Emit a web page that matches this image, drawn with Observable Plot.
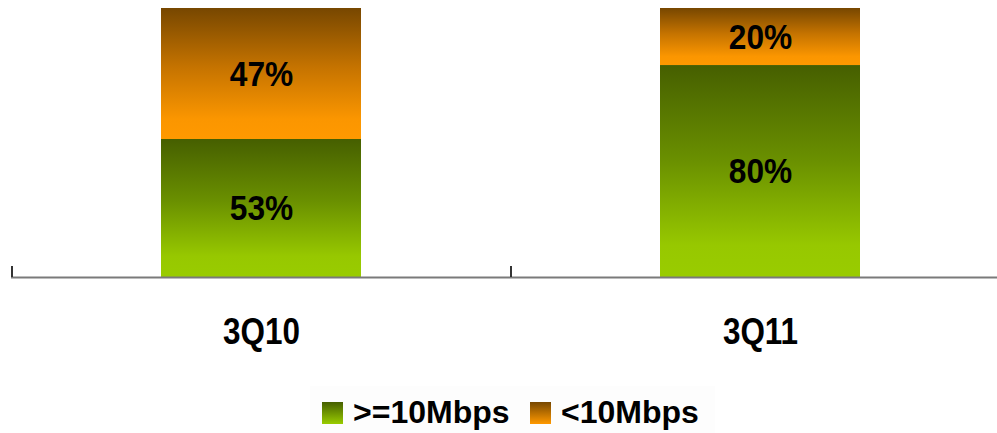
<!DOCTYPE html>
<html>
<head>
<meta charset="utf-8">
<script src="https://cdn.jsdelivr.net/npm/d3@7"></script>
<script src="https://cdn.jsdelivr.net/npm/@observablehq/plot@0.6"></script>
<style>
  html, body { margin: 0; padding: 0; background: #ffffff; }
  #chart { width: 997px; height: 433px; position: relative; overflow: hidden; }
  .legend { position: absolute; left: 310px; top: 386px; width: 405px; height: 47px; background: #fdfdfd;
    font-family: "Liberation Sans", Arial, sans-serif; font-weight: bold; font-size: 32px; color: #000; }
  .item { position: absolute; top: 0; display: flex; align-items: center; height: 47px; }
  .sw { width: 21px; height: 22px; margin-right: 10px; margin-top: 6px; }
  .lbl { line-height: 47px; padding-top: 6px; }
</style>
</head>
<body>
<div id="chart"></div>
<script>
const categories = ["3Q10", "3Q11"];
const series = [">=10Mbps", "<10Mbps"];
// segment heights as drawn (percent of bar)
const geq10 = [51.3, 78.8];
const lt10 = [48.7, 21.2];
// printed labels
const geq10Labels = ["53%", "80%"];
const lt10Labels = ["47%", "20%"];
const seriesValues = [geq10, lt10];
const seriesLabels = [geq10Labels, lt10Labels];
const gradientIds = ["url(#gGreen)", "url(#gOrange)"];

const data = [];
series.forEach((s, si) => {
  categories.forEach((c, ci) => {
    data.push({category: c, series: s, value: seriesValues[si][ci], label: seriesLabels[si][ci]});
  });
});

const font = "'Liberation Sans', Arial, sans-serif";

const plot = Plot.plot({
  width: 997,
  height: 385,
  marginTop: 8,
  marginBottom: 108,
  marginLeft: 11,
  marginRight: 0,
  style: {fontFamily: font, background: "transparent", overflow: "visible"},
  x: {domain: categories, range: [11, 1009], paddingInner: 0.6, paddingOuter: 0.3, label: null},
  y: {domain: [0, 100], axis: null},
  color: {domain: series, range: gradientIds, type: "ordinal"},
  marks: [
    Plot.barY(data, Plot.stackY({x: "category", y: "value", fill: "series", order: series})),
    Plot.text(data, Plot.stackY({x: "category", y: "value", z: "series", order: series, text: "label",
      fontSize: 36, fontWeight: "bold", fill: "#000", className: "seglabel"})),
    Plot.ruleY([0], {stroke: "#7a7a7a", strokeWidth: 2}),
    Plot.ruleX(categories, {x: d => d, y1: 0, y2: 4.1, dx: -249.5, stroke: "#333", strokeWidth: 2}),
    Plot.axisX({tickSize: 0, tickPadding: 40, fontSize: 37, fontWeight: "bold", fill: "#000"})
  ]
});

const svg = d3.select(plot);
const defs = svg.insert("defs", ":first-child");
const gG = defs.append("linearGradient").attr("id", "gGreen").attr("x1", 0).attr("y1", 0).attr("x2", 0).attr("y2", 1);
gG.append("stop").attr("offset", "0%").attr("stop-color", "#465f00");
gG.append("stop").attr("offset", "45%").attr("stop-color", "#6a9000");
gG.append("stop").attr("offset", "85%").attr("stop-color", "#97c800");
gG.append("stop").attr("offset", "100%").attr("stop-color", "#99cc00");
const gO = defs.append("linearGradient").attr("id", "gOrange").attr("x1", 0).attr("y1", 0).attr("x2", 0).attr("y2", 1);
gO.append("stop").attr("offset", "0%").attr("stop-color", "#774700");
gO.append("stop").attr("offset", "45%").attr("stop-color", "#c57300");
gO.append("stop").attr("offset", "85%").attr("stop-color", "#fb9600");
gO.append("stop").attr("offset", "100%").attr("stop-color", "#ff9900");

const chart = document.getElementById("chart");
chart.appendChild(plot);

// horizontally condense the bold labels to match the narrow lettering of the original
function condense(sel, s) {
  sel.each(function() {
    const b = this.getBBox();
    const cx = b.x + b.width / 2;
    const t = this.getAttribute("transform") || "";
    this.setAttribute("transform", `${t} translate(${cx},0) scale(${s},1) translate(${-cx},0)`);
  });
}
condense(svg.selectAll("g[aria-label='text'] text"), 0.88);
condense(svg.selectAll("g[aria-label='x-axis tick label'] text"), 0.85);

const legend = document.createElement("div");
legend.className = "legend";
const swatchCss = [
  "linear-gradient(#465f00, #99cc00)",
  "linear-gradient(#774700, #ff9900)"
];
const lefts = [12, 220];
series.forEach((s, i) => {
  const item = document.createElement("div");
  item.className = "item";
  item.style.left = lefts[i] + "px";
  const sw = document.createElement("div");
  sw.className = "sw";
  sw.style.background = swatchCss[i];
  const lb = document.createElement("span");
  lb.className = "lbl";
  lb.textContent = s;
  item.appendChild(sw);
  item.appendChild(lb);
  legend.appendChild(item);
});
chart.appendChild(legend);
</script>
</body>
</html>
